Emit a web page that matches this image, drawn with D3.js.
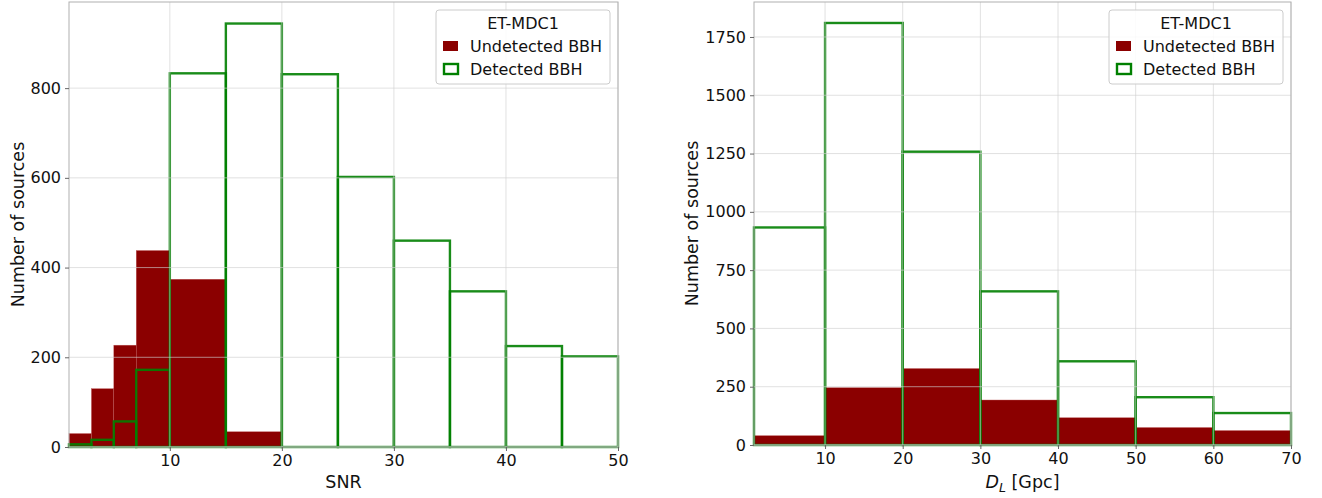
<!DOCTYPE html>
<html><head><meta charset="utf-8">
<script src="https://cdn.jsdelivr.net/npm/d3@7"></script>
<style>
body{margin:0;background:#fff;}
text{font-family:"DejaVu Sans",sans-serif;fill:#111;}
</style></head>
<body><svg id="c" width="1322" height="498"></svg>
<script>
// ---- data ----
const snrEdgesUndet = [1,3,5,7,10,15,20];
const snrUndetected = [30,130,227,438,374,34];
const snrEdgesDet = [1,3,5,7,10,15,20,25,30,35,40,45,50];
const snrDetected = [6,16,57,172,833,944,831,602,460,347,225,202];
const snrXTicks = [10,20,30,40,50];
const snrYTicks = [0,200,400,600,800];

const dlEdges = [0.85,10,20,30,40,50,60,70];
const dlUndetected = [40,246,328,193,117,75,62];
const dlDetected = [933,1810,1258,659,359,205,137];
const dlXTicks = [10,20,30,40,50,60,70];
const dlYTicks = [0,250,500,750,1000,1250,1500,1750];

const legendTitle = "ET-MDC1";
const legendLabels = ["Undetected BBH","Detected BBH"];

const RED = "#8b0000", GREEN = "#008000";
const svg = d3.select("#c");

function panel(o){
  const x = d3.scaleLinear().domain(o.xdom).range([o.x0,o.x1]);
  const y = d3.scaleLinear().domain(o.ydom).range([o.y1,o.y0]);
  const g = svg.append("g");
  // undetected bars
  const ub = o.undet.map((v,i)=>({a:o.ue[i],b:o.ue[i+1],v}));
  g.selectAll(".ub").data(ub).enter().append("rect")
    .attr("x",d=>x(d.a)).attr("width",d=>x(d.b)-x(d.a))
    .attr("y",d=>y(d.v)).attr("height",d=>y(0)-y(d.v))
    .attr("fill",RED).attr("stroke","#c06060").attr("stroke-width",0.4);
  // detected outlines
  const db = o.det.map((v,i)=>({a:o.de[i],b:o.de[i+1],v}));
  g.selectAll(".db").data(db).enter().append("rect")
    .attr("x",d=>x(d.a)).attr("width",d=>x(d.b)-x(d.a))
    .attr("y",d=>y(d.v)).attr("height",d=>y(0)-y(d.v))
    .attr("fill","none").attr("stroke",GREEN).attr("stroke-width",2.4).attr("stroke-opacity",0.9);
  // grid (drawn above patches, as in the reference)
  g.selectAll(".gx").data(o.xticks).enter().append("line")
    .attr("x1",d=>x(d)).attr("x2",d=>x(d)).attr("y1",o.y0).attr("y2",o.y1)
    .attr("stroke","#d0d0d0").attr("stroke-opacity",0.8).attr("stroke-width",0.8);
  g.selectAll(".gy").data(o.yticks).enter().append("line")
    .attr("y1",d=>y(d)).attr("y2",d=>y(d)).attr("x1",o.x0).attr("x2",o.x1)
    .attr("stroke","#d0d0d0").attr("stroke-opacity",0.8).attr("stroke-width",0.8);
  // frame
  g.append("rect").attr("x",o.x0).attr("y",o.y0).attr("width",o.x1-o.x0).attr("height",o.y1-o.y0)
    .attr("fill","none").attr("stroke","#b0b0b0").attr("stroke-width",1);
  // axes
  const ax = g.append("g").attr("transform",`translate(0,${o.y1})`)
    .call(d3.axisBottom(x).tickValues(o.xticks).tickSize(4).tickPadding(4).tickFormat(d3.format("d")));
  const ay = g.append("g").attr("transform",`translate(${o.x0},0)`)
    .call(d3.axisLeft(y).tickValues(o.yticks).tickSize(4).tickPadding(4).tickFormat(d3.format("d")));
  [ax,ay].forEach(a=>{
    a.select(".domain").remove();
    a.selectAll(".tick line").attr("stroke","#666");
    a.selectAll(".tick text").attr("font-size",16).attr("font-family","DejaVu Sans").attr("fill","#111");
  });
  // labels
  const xl = g.append("text").attr("x",(o.x0+o.x1)/2).attr("y",488).attr("text-anchor","middle").attr("font-size",17.5);
  if(o.xlabelDL){
    xl.append("tspan").attr("font-style","italic").text("D");
    xl.append("tspan").attr("font-style","italic").attr("font-size",12.5).attr("dy",4).text("L");
    xl.append("tspan").attr("dy",-4).text(" [Gpc]");
  } else xl.text(o.xlabel);
  g.append("text").attr("transform",`translate(${o.ylx},${(o.y0+o.y1)/2}) rotate(-90)`)
    .attr("text-anchor","middle").attr("font-size",17.5).text("Number of sources");
  // legend
  const lx = o.lx, ly = 10;
  const lg = g.append("g");
  lg.append("rect").attr("x",lx).attr("y",ly).attr("width",174).attr("height",74).attr("rx",3)
    .attr("fill","#fff").attr("fill-opacity",0.85).attr("stroke","#cccccc");
  lg.append("text").attr("x",lx+87).attr("y",ly+19).attr("text-anchor","middle").attr("font-size",16).text(legendTitle);
  lg.append("rect").attr("x",lx+7).attr("y",ly+31).attr("width",15).attr("height",10).attr("fill",RED);
  lg.append("rect").attr("x",lx+8).attr("y",ly+54).attr("width",14).attr("height",10)
    .attr("fill","none").attr("stroke",GREEN).attr("stroke-width",2.4);
  lg.append("text").attr("x",lx+34).attr("y",ly+42).attr("font-size",16).text(legendLabels[0]);
  lg.append("text").attr("x",lx+34).attr("y",ly+65).attr("font-size",16).text(legendLabels[1]);
}

panel({xdom:[1,50], ydom:[0,992], x0:69, x1:618, y0:2, y1:447,
  ue:snrEdgesUndet, undet:snrUndetected, de:snrEdgesDet, det:snrDetected,
  xticks:snrXTicks, yticks:snrYTicks, xlabel:"SNR", ylx:24, lx:436});
panel({xdom:[0.85,70], ydom:[0,1900], x0:754, x1:1291, y0:2, y1:445,
  ue:dlEdges, undet:dlUndetected, de:dlEdges, det:dlDetected,
  xticks:dlXTicks, yticks:dlYTicks, xlabelDL:true, ylx:698, lx:1109});
</script></body></html>
